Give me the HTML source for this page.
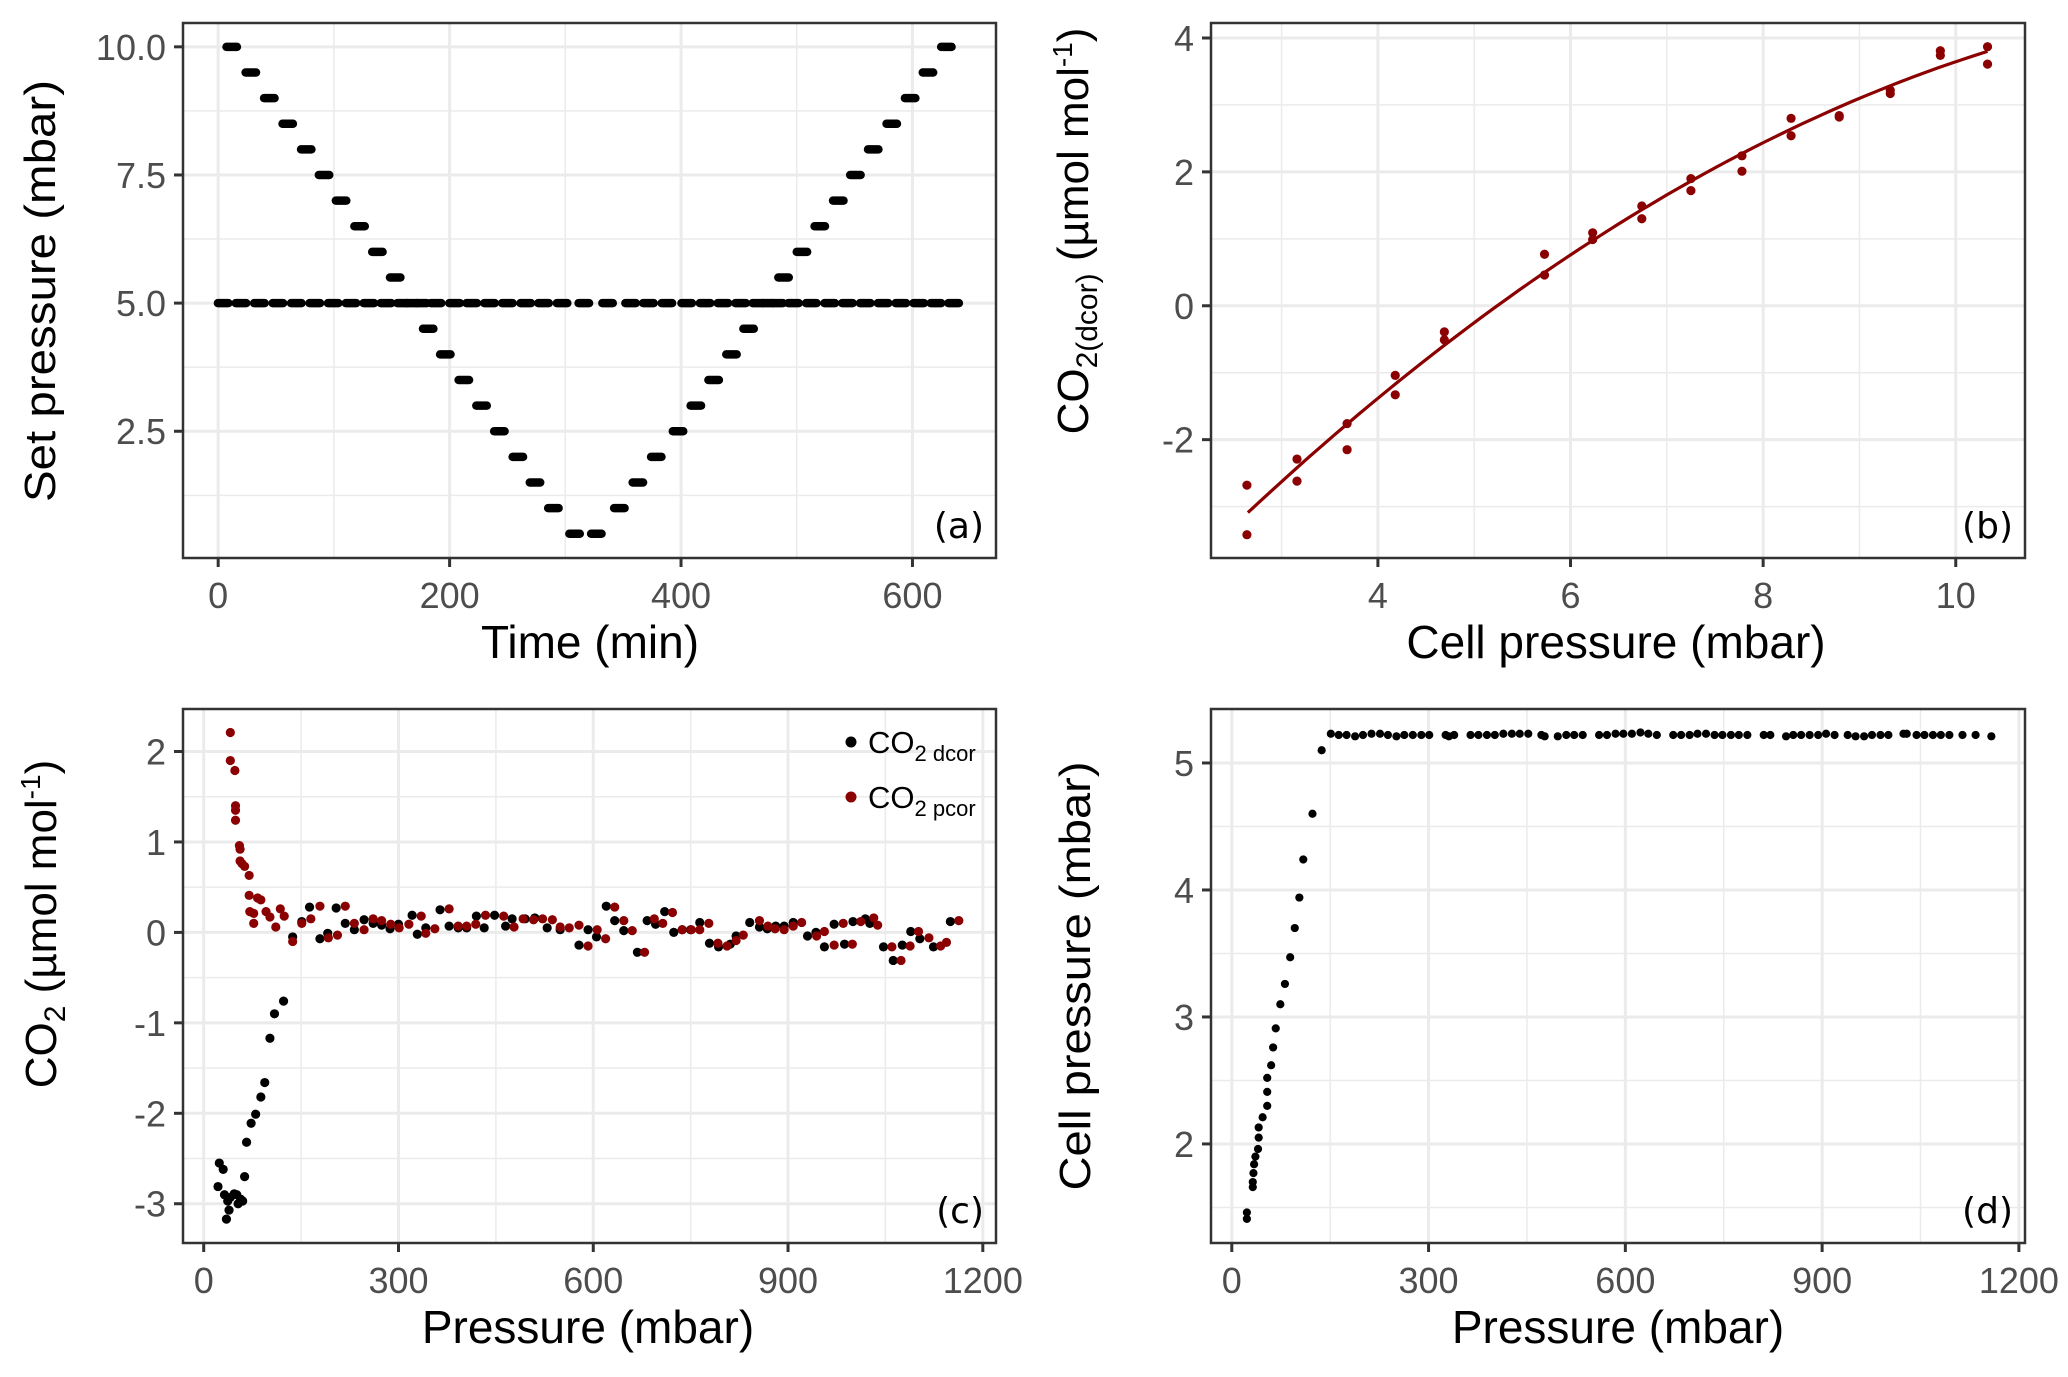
<!DOCTYPE html>
<html><head><meta charset="utf-8"><title>Pressure dependence of CO2 measurements</title>
<style>
html,body{margin:0;padding:0;background:#fff;}
svg{display:block;font-family:"Liberation Sans",Arial,sans-serif;}
</style></head>
<body>
<svg id="fig" width="2068" height="1377" viewBox="0 0 2068 1377" xmlns="http://www.w3.org/2000/svg"></svg>
<script>
// ---------- Panel (a) data ----------
const aBaseTimes=[4.3,19.7,35.6,51.6,67.5,83.5,99.4,114.8,130.2,145.0,159.3,167.2,175.8,188.3,204.3,219.1,234.5,249.9,265.8,281.2,297.2,316.0,336.5,356.4,371.8,387.8,404.9,420.8,436.2,451.5,466.4,474.9,483.5,497.2,512.6,528.5,543.8,559.2,574.6,590.0,605.4,620.3,635.6];
const aBaseLevel=5.0;
const aStepTimes=[11.7,28.2,44.2,60.1,76.1,91.5,106.2,122.2,137.6,153.0,181.5,196.3,212.3,227.6,243.0,259.0,273.8,289.7,308.0,326.8,346.7,362.7,378.6,397.4,412.8,428.2,443.6,458.4,488.6,504.5,519.9,535.9,550.7,566.1,582.1,598.0,613.4,629.3];
const aStepLevels=[10,9.5,9,8.5,8,7.5,7,6.5,6,5.5,4.5,4,3.5,3,2.5,2,1.5,1,0.5,0.5,1,1.5,2,2.5,3,3.5,4,4.5,5.5,6,6.5,7,7.5,8,8.5,9,9.5,10];
const aXTicks=[0,200,400,600];
const aYTicks=[2.5,5.0,7.5,10.0];
const aYTickLabels=["2.5","5.0","7.5","10.0"];

// ---------- Panel (b) data ----------
const bX=[2.64,2.64,3.16,3.16,3.68,3.68,4.18,4.18,4.69,4.69,5.73,5.73,6.23,6.23,6.74,6.74,7.25,7.25,7.78,7.78,8.29,8.29,8.79,8.79,9.32,9.32,9.84,9.84,10.33,10.33];
const bY=[-2.68,-3.42,-2.29,-2.62,-1.76,-2.15,-1.04,-1.33,-0.39,-0.51,0.77,0.46,1.09,0.99,1.49,1.30,1.90,1.72,2.24,2.01,2.80,2.54,2.84,2.82,3.22,3.17,3.81,3.74,3.87,3.61];
const bFitCoef=[-7.062,1.653,-0.05823]; // c, b, a of quadratic fit
const bFitRange=[2.65,10.33];
const bXTicks=[4,6,8,10];
const bYTicks=[-2,0,2,4];

// ---------- Panel (c) data ----------
const cDcorX=[24,22,30,32,37,35,39,41,47,51,53,57,60,63,66,73,80,88,94,102,109,123,
137,151,163,179,191,204,218,232,247,261,274,287,300,321,329,342,364,378,392,405,420,432,448,465,475,495,510,529,549,578,592,605,620,633,647,668,683,696,710,724,737,750,764,779,793,811,820,841,856,868,881,894,908,930,943,956,971,987,1000,1019,1026,1047,1062,1076,1089,1103,1124,1150];
const cDcorY=[-2.55,-2.81,-2.62,-2.90,-2.97,-3.17,-3.07,-2.93,-2.89,-2.90,-3.00,-2.95,-2.97,-2.70,-2.32,-2.11,-2.01,-1.82,-1.66,-1.17,-0.90,-0.76,
-0.05,0.12,0.28,-0.07,-0.01,0.27,0.10,0.03,0.14,0.10,0.08,0.04,0.09,0.19,-0.02,0.05,0.25,0.07,0.05,0.05,0.18,0.05,0.19,0.07,0.15,0.15,0.16,0.05,0.03,-0.14,0.03,-0.05,0.29,0.13,0.02,-0.22,0.13,0.09,0.23,0.00,0.03,0.03,0.11,-0.12,-0.16,-0.13,-0.04,0.11,0.06,0.04,0.07,0.07,0.11,-0.04,0.00,-0.16,0.09,-0.13,0.12,0.15,0.10,-0.16,-0.31,-0.14,0.01,-0.07,-0.16,0.12];
const cPcorX=[41,41,48,49,49,49,55,56,56,59,63,70,70,71,77,77,83,88,96,102,111,118,124,
137,151,165,179,192,206,218,232,247,261,274,288,301,316,335,342,356,378,392,405,419,434,462,478,492,508,522,537,549,563,578,592,606,619,633,647,660,679,694,707,722,737,751,764,778,792,806,820,831,856,869,880,894,908,921,944,956,971,985,999,1012,1032,1038,1060,1074,1088,1101,1117,1135,1144,1163];
const cPcorY=[2.21,1.90,1.79,1.40,1.35,1.24,0.96,0.92,0.79,0.76,0.73,0.63,0.41,0.23,0.21,0.10,0.38,0.36,0.23,0.17,0.06,0.26,0.18,
-0.10,0.10,0.15,0.29,-0.06,-0.03,0.29,0.10,0.03,0.15,0.13,0.09,0.05,0.09,0.18,-0.01,0.04,0.26,0.07,0.07,0.09,0.19,0.18,0.06,0.15,0.14,0.15,0.14,0.06,0.05,0.08,-0.15,0.03,-0.07,0.28,0.13,0.02,-0.22,0.15,0.10,0.22,0.03,0.03,0.03,0.10,-0.12,-0.15,-0.09,-0.03,0.13,0.07,0.04,0.03,0.07,0.11,-0.04,0.01,-0.14,0.10,-0.13,0.12,0.16,0.08,-0.16,-0.31,-0.15,0.01,-0.06,-0.15,-0.11,0.13];
const cXTicks=[0,300,600,900,1200];
const cYTicks=[-3,-2,-1,0,1,2];

// ---------- Panel (d) data ----------
const dX=[23,23,32,32,33,34,36,40,41,41,47,54,54,54,60,63,67,74,81,89,96,103,109,123,137,
151,163,175,188,200,213,226,238,251,263,276,289,301,326,331,339,364,376,389,401,414,427,439,452,472,477,497,510,522,535,560,572,585,597,610,623,635,648,673,685,698,710,723,736,748,761,773,786,811,821,845,856,868,881,894,906,919,939,951,964,976,989,1001,1024,1029,1044,1056,1069,1081,1094,1114,1134,1158];
const dY=[1.46,1.41,1.66,1.70,1.77,1.84,1.90,1.96,2.05,2.13,2.21,2.30,2.41,2.52,2.62,2.76,2.91,3.10,3.26,3.47,3.70,3.94,4.24,4.60,5.10,
5.23,5.22,5.22,5.21,5.22,5.23,5.23,5.22,5.21,5.22,5.22,5.22,5.22,5.22,5.21,5.22,5.22,5.22,5.22,5.22,5.23,5.23,5.23,5.23,5.22,5.21,5.21,5.22,5.22,5.22,5.22,5.22,5.23,5.23,5.23,5.24,5.23,5.22,5.22,5.22,5.22,5.23,5.23,5.22,5.22,5.22,5.22,5.22,5.22,5.22,5.21,5.22,5.22,5.22,5.22,5.23,5.22,5.22,5.21,5.21,5.22,5.22,5.22,5.23,5.23,5.22,5.22,5.22,5.22,5.22,5.22,5.22,5.21];
const dXTicks=[0,300,600,900,1200];
const dYTicks=[2,3,4,5];

// ---------- drawing ----------
const NS="http://www.w3.org/2000/svg";
const svg=document.getElementById('fig');
const RED="#8b0000";
function mk(tag,attrs,parent){const e=document.createElementNS(NS,tag);for(const k in attrs)e.setAttribute(k,attrs[k]);(parent||svg).appendChild(e);return e;}
function scale(d0,d1,p0,p1){return v=>p0+(v-d0)/(d1-d0)*(p1-p0);}

function panel(o){
  const g=mk('g',{});
  
  
  const X=scale(o.xd[0],o.xd[1],o.box[0],o.box[2]);
  const Y=scale(o.yd[0],o.yd[1],o.box[3],o.box[1]);
  const bg=mk('rect',{x:o.box[0],y:o.box[1],width:o.box[2]-o.box[0],height:o.box[3]-o.box[1],fill:'#fff'},g);
  
  
  const grid=mk('g',{},g);
  
  
  o.xMinor.forEach(v=>mk('line',{x1:X(v),x2:X(v),y1:o.box[1],y2:o.box[3],stroke:'#ebebeb','stroke-width':1.5},grid));
  o.yMinor.forEach(v=>mk('line',{y1:Y(v),y2:Y(v),x1:o.box[0],x2:o.box[2],stroke:'#ebebeb','stroke-width':1.5},grid));
  o.xTicks.forEach(v=>mk('line',{x1:X(v),x2:X(v),y1:o.box[1],y2:o.box[3],stroke:'#ebebeb','stroke-width':3},grid));
  o.yTicks.forEach(v=>mk('line',{y1:Y(v),y2:Y(v),x1:o.box[0],x2:o.box[2],stroke:'#ebebeb','stroke-width':3},grid));
  const marks=mk('g',{},g);
  
  
  o.draw(marks,X,Y);
  const frame=mk('rect',{x:o.box[0],y:o.box[1],width:o.box[2]-o.box[0],height:o.box[3]-o.box[1],fill:'none',stroke:'#333','stroke-width':2.5},g);
  
  
  const xa=mk('g',{},g);
  
  
  o.xTicks.forEach((v,i)=>{
    mk('line',{x1:X(v),x2:X(v),y1:o.box[3],y2:o.box[3]+9,stroke:'#333','stroke-width':3},xa);
    const t=mk('text',{x:X(v),y:o.box[3]+50,'font-size':36,fill:'#4d4d4d','text-anchor':'middle'},xa);
    
    
    t.textContent=o.xLabels?o.xLabels[i]:String(v);
  });
  const ya=mk('g',{},g);
  
  
  o.yTicks.forEach((v,i)=>{
    mk('line',{x1:o.box[0]-9,x2:o.box[0],y1:Y(v),y2:Y(v),stroke:'#333','stroke-width':3},ya);
    const t=mk('text',{x:o.box[0]-17,y:Y(v)+13,'font-size':36,fill:'#4d4d4d','text-anchor':'end'},ya);
    
    
    t.textContent=o.yLabels?o.yLabels[i]:String(v);
  });
  const xt=mk('text',{x:o.xTitleX,y:o.box[3]+100,'font-size':46,fill:'#000','text-anchor':'middle'},g);
  
  
  xt.textContent=o.xTitle;
  const pl=mk('text',{x:o.box[2]-12,y:o.box[3]-20,'font-size':36,fill:'#000','text-anchor':'end','font-family':'DejaVu Sans, sans-serif'},g);
  
  
  pl.textContent=o.label;
  return g;
}
function yTitle(x,cy,len,html,name,fit){
  const t=mk('text',{x:0,y:0,'font-size':44,fill:'#000','text-anchor':'middle',transform:`translate(${x},${cy}) rotate(-90)`});
  if(fit){t.setAttribute('textLength',len);t.setAttribute('lengthAdjust','spacingAndGlyphs');}
  
  
  t.innerHTML=html;
  return t;
}

// Panel a
panel({name:'panel-a-set-pressure',box:[183,23,996,558],xd:[-30.4,672.2],yd:[0.027,10.465],
  xTicks:aXTicks,xMinor:[100,300,500],yTicks:aYTicks,yLabels:aYTickLabels,yMinor:[1.25,3.75,6.25,8.75],
  xTitle:'Time (min)',xTitleX:590,label:'(a)',
  draw:(g,X,Y)=>{
    const dash=(t,v)=>mk('line',{x1:X(t-4.5),x2:X(t+4.5),y1:Y(v),y2:Y(v),stroke:'#000','stroke-width':8.5,'stroke-linecap':'round'},g);
    aBaseTimes.forEach(t=>{const l=dash(t,aBaseLevel);
      
      });
    aStepTimes.forEach((t,i)=>{const l=dash(t,aStepLevels[i]);
      
      });
  }});
yTitle(55,291,422,'Set pressure (mbar)','y-axis-title',true);

// Panel b
panel({name:'panel-b-co2-vs-cell-pressure',box:[1211,23,2025,558],xd:[2.267,10.719],yd:[-3.768,4.224],
  xTicks:bXTicks,xMinor:[3,5,7,9],yTicks:bYTicks,yMinor:[-3,-1,1,3],
  xTitle:'Cell pressure (mbar)',xTitleX:1616,label:'(b)',
  draw:(g,X,Y)=>{
    let d='';
    const n=60;
    for(let i=0;i<=n;i++){
      const x=bFitRange[0]+(bFitRange[1]-bFitRange[0])*i/n;
      const y=bFitCoef[0]+bFitCoef[1]*x+bFitCoef[2]*x*x;
      d+=(i?'L':'M')+X(x).toFixed(1)+','+Y(y).toFixed(1);
    }
    const p=mk('path',{d:d,fill:'none',stroke:RED,'stroke-width':3.2},g);
    
    
    bX.forEach((x,i)=>{const c=mk('circle',{cx:X(x),cy:Y(bY[i]),r:4.6,fill:RED},g);
      
      });
  }});
yTitle(1088,231,388,'CO<tspan font-size="30" dy="9">2(dcor)</tspan><tspan dy="-9"> (µmol mol</tspan><tspan font-size="28" dy="-16">-1</tspan><tspan dy="16">)</tspan>','y-axis-title',false);

// Panel c
panel({name:'panel-c-co2-vs-pressure',box:[183,709,996,1243],xd:[-31.9,1220.3],yd:[-3.434,2.47],
  xTicks:cXTicks,xMinor:[150,450,750,1050],yTicks:cYTicks,yMinor:[-2.5,-1.5,-0.5,0.5,1.5],
  xTitle:'Pressure (mbar)',xTitleX:588,label:'(c)',
  draw:(g,X,Y)=>{
    cDcorX.forEach((x,i)=>{const c=mk('circle',{cx:X(x),cy:Y(cDcorY[i]),r:4.6,fill:'#000'},g);
      
      });
    cPcorX.forEach((x,i)=>{const c=mk('circle',{cx:X(x),cy:Y(cPcorY[i]),r:4.6,fill:RED},g);
      
      });
  }});
yTitle(56,924,324,'CO<tspan font-size="30" dy="9">2</tspan><tspan dy="-9">  (µmol mol</tspan><tspan font-size="28" dy="-16">-1</tspan><tspan dy="16">)</tspan>','y-axis-title',false);
// legend
const lg=mk('g',{});


[['#000','dcor',742],[RED,'pcor',797]].forEach(r=>{
  const e=mk('g',{},lg);
  
  
  mk('circle',{cx:851,cy:r[2],r:5.5,fill:r[0]},e);
  const t=mk('text',{x:868,y:r[2]+11,'font-size':31,fill:'#000'},e);
  t.innerHTML='CO<tspan font-size="22" dy="8">2 '+r[1]+'</tspan>';
});

// Panel d
panel({name:'panel-d-cell-pressure',box:[1211,709,2025,1243],xd:[-31.7,1209.3],yd:[1.22,5.425],
  xTicks:dXTicks,xMinor:[150,450,750,1050],yTicks:dYTicks,yMinor:[1.5,2.5,3.5,4.5],
  xTitle:'Pressure (mbar)',xTitleX:1618,label:'(d)',
  draw:(g,X,Y)=>{
    dX.forEach((x,i)=>{const c=mk('circle',{cx:X(x),cy:Y(dY[i]),r:4.1,fill:'#000'},g);
      
      });
  }});
yTitle(1090,976,429,'Cell pressure (mbar)','y-axis-title',true);
</script>
</body></html>
